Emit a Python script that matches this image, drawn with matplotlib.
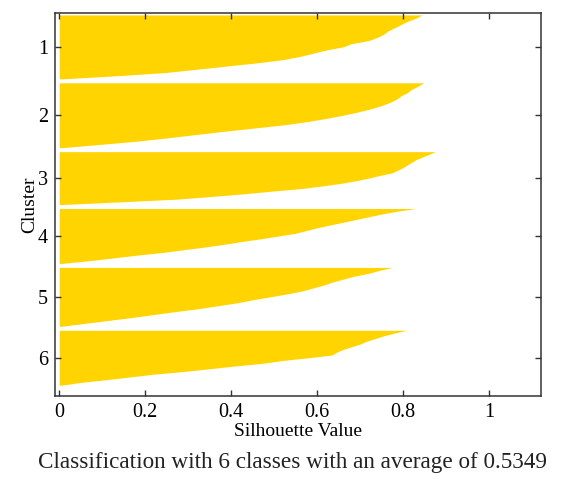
import matplotlib.pyplot as plt
import numpy as np

plt.rcParams['font.family'] = ['Liberation Serif', 'DejaVu Serif']

# number of members in each cluster
cluster_sizes = [64, 65, 53, 55, 59, 55]
cluster_names = ["1", "2", "3", "4", "5", "6"]

# sorted silhouette values (top of each cluster to bottom)
sil1 = [0.844, 0.83, 0.81, 0.795, 0.78, 0.765, 0.755, 0.74, 0.72, 0.68, 0.66,
        0.62, 0.59, 0.56, 0.52, 0.46, 0.39, 0.32, 0.25, 0.14, 0.01]
sil2 = [0.848, 0.835, 0.82, 0.81, 0.795, 0.785, 0.77, 0.75, 0.725, 0.695, 0.66,
        0.62, 0.575, 0.52, 0.45, 0.38, 0.315, 0.25, 0.18, 0.095, 0.006]
sil3 = [0.875, 0.86, 0.845, 0.83, 0.82, 0.81, 0.80, 0.787, 0.775, 0.745, 0.72,
        0.69, 0.655, 0.61, 0.56, 0.49, 0.425, 0.35, 0.27, 0.14, 0.006]
sil4 = [0.829, 0.785, 0.75, 0.72, 0.69, 0.66, 0.63, 0.60, 0.575, 0.55, 0.51,
        0.47, 0.425, 0.385, 0.34, 0.29, 0.24, 0.18, 0.125, 0.07, 0.006]
sil5 = [0.775, 0.745, 0.72, 0.685, 0.66, 0.635, 0.615, 0.59, 0.565, 0.53, 0.49,
        0.45, 0.415, 0.37, 0.325, 0.27, 0.22, 0.17, 0.115, 0.06, 0.006]
sil6 = [0.808, 0.78, 0.755, 0.735, 0.715, 0.70, 0.68, 0.66, 0.645, 0.635, 0.58,
        0.52, 0.475, 0.41, 0.35, 0.29, 0.22, 0.165, 0.11, 0.05, 0.006]
silhouettes = [sil1, sil2, sil3, sil4, sil5, sil6]

avg_value = 0.5349

gap = 4
bar_color = '#FFD400'

fig = plt.figure(figsize=(5.84, 4.79), dpi=100)
ax = fig.add_axes([0.094, 0.173, 0.832, 0.800])

start = 0
centers = []
for n, vals in zip(cluster_sizes, silhouettes):
    y = np.linspace(start, start + n, len(vals))
    ax.fill_betweenx(y, 0, vals, color=bar_color, linewidth=0)
    centers.append(start + n / 2)
    start += n + gap
total = start - gap

ax.set_ylim(total + 11, -2)
ax.set_xlim(-0.01, 1.12)
ax.set_yticks(centers)
ax.set_yticklabels(cluster_names)
ax.set_xticks([0, 0.2, 0.4, 0.6, 0.8, 1])
ax.set_xticklabels(["0", "0.2", "0.4", "0.6", "0.8", "1"])

ax.tick_params(direction='in', top=True, right=True, labelsize=14.5,
               length=4, width=1, color='#333333')
ax.tick_params(axis='x', pad=5)
ax.tick_params(axis='y', pad=5)
for s in ax.spines.values():
    s.set_color('#333333')
    s.set_linewidth(1.1)

ax.set_xlabel("Silhouette Value", fontsize=14, labelpad=1)
ax.set_ylabel("Cluster", fontsize=14, labelpad=0)

fig.text(0.5, 0.022, "Classification with 6 classes with an average of %.4f" % avg_value,
         ha='center', va='baseline', fontsize=16.7, color='#222222')

plt.savefig("out.png", dpi=100)
